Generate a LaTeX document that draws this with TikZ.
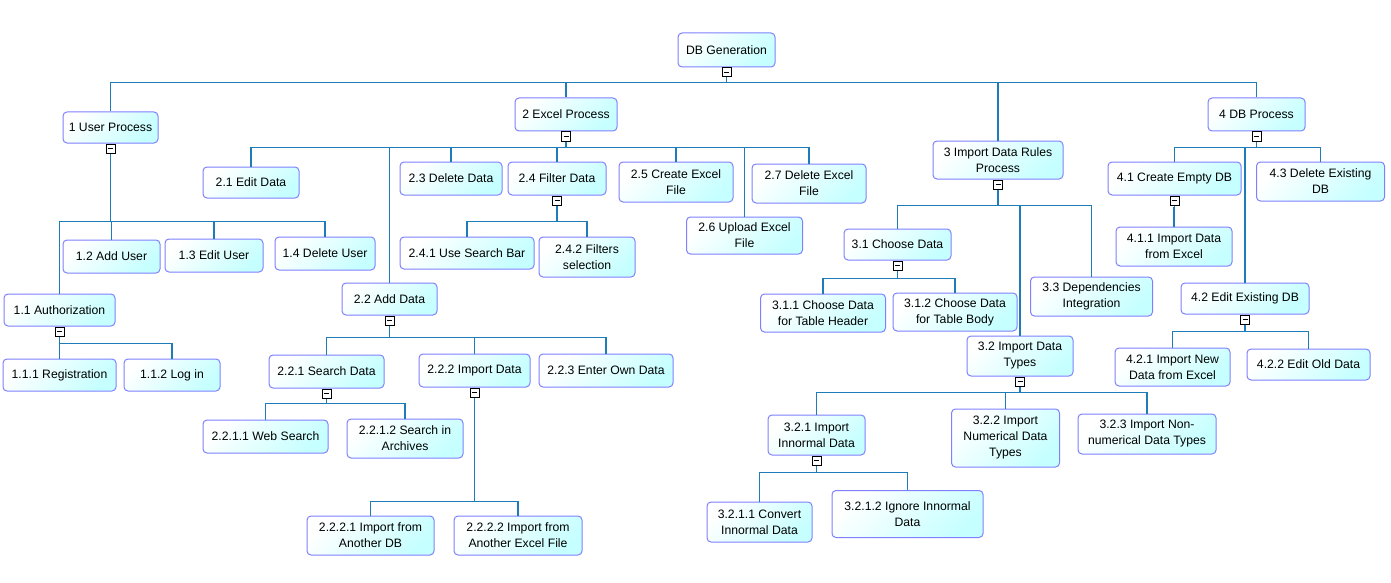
\documentclass[tikz,border=0pt]{standalone}
\usepackage{fontspec}
\setmainfont{Liberation Sans}
\definecolor{edgec}{RGB}{30,125,185}
\definecolor{boxborder}{RGB}{128,128,255}
\definecolor{boxcyan}{RGB}{198,255,255}
\tikzset{
  box/.style={draw=boxborder, line width=1pt, rounded corners=4pt,
    top color=white, bottom color=boxcyan, shading angle=45,
    align=center, inner sep=1pt, text=black,
    font=\fontsize{12.2}{16}\selectfont},
  edge/.style={draw=edgec, line width=1.2pt},
  marker/.style={draw=black, fill=white, line width=0.9pt, minimum size=9pt,
    inner sep=0pt, anchor=north,
    path picture={\draw[line width=0.9pt] ([xshift=2pt]path picture bounding box.west) -- ([xshift=-2pt]path picture bounding box.east);}}
}
\newcommand\bx[6]{\node[box, minimum width=#4pt, minimum height=#5pt] (#1) at (#2,#3) {#6};}
\newcommand\kids[3]{\foreach \c in {#3} {\draw[edge] (#1.south) -- ++(0,#2) -| (\c.north);}}
\newcommand\mk[1]{\node[marker] (m#1) at (#1.south) {};}
\begin{document}
\begin{tikzpicture}[x=1pt,y=-1pt]
\useasboundingbox (0,0) rectangle (1391,583);
% nodes
\bx{root}{726.5}{50}{97}{34}{DB Generation}
\bx{n1}{110.5}{127.5}{95}{31}{1 User Process}
\bx{n11}{59.5}{310}{111}{32}{1.1 Authorization}
\bx{n111}{59.5}{375}{113}{32}{1.1.1 Registration}
\bx{n112}{172}{375}{96}{32}{1.1.2 Log in}
\bx{n12}{111.5}{256.5}{97}{33}{1.2 Add User}
\bx{n13}{214}{255.5}{98}{33}{1.3 Edit User}
\bx{n14}{325}{253.5}{100}{33}{1.4 Delete User}
\bx{n2}{566}{114.5}{102}{33}{2 Excel Process}
\bx{n21}{251}{182.5}{96}{31}{2.1 Edit Data}
\bx{n22}{389.5}{299}{95}{32}{2.2 Add Data}
\bx{n221}{326.5}{371.5}{115}{33}{2.2.1 Search Data}
\bx{n2211}{265.5}{436.5}{125}{33}{2.2.1.1 Web Search}
\bx{n2212}{405}{438.5}{116}{39}{2.2.1.2 Search in\\Archives}
\bx{n222}{474.5}{370.5}{111}{33}{2.2.2 Import Data}
\bx{n2221}{370.5}{535.5}{127}{39}{2.2.2.1 Import from\\Another DB}
\bx{n2222}{518}{535.5}{128}{39}{2.2.2.2 Import from\\Another Excel File}
\bx{n223}{606}{370.5}{134}{33}{2.2.3 Enter Own Data}
\bx{n23}{451}{178.5}{102}{33}{2.3 Delete Data}
\bx{n24}{557}{178.5}{98}{33}{2.4 Filter Data}
\bx{n241}{467}{253}{134}{32}{2.4.1 Use Search Bar}
\bx{n242}{587}{257}{96}{40}{2.4.2 Filters\\selection}
\bx{n25}{676}{182}{114}{40}{2.5 Create Excel\\File}
\bx{n26}{744.5}{235.5}{116}{37}{2.6 Upload Excel\\File}
\bx{n27}{809}{183.5}{114}{39}{2.7 Delete Excel\\File}
\bx{n3}{998}{160}{130}{38}{3 Import Data Rules\\Process}
\bx{n31}{897.5}{244.5}{107}{31}{3.1 Choose Data}
\bx{n311}{823}{313}{125}{38}{3.1.1 Choose Data\\for Table Header}
\bx{n312}{955}{312}{124}{38}{3.1.2 Choose Data\\for Table Body}
\bx{n32}{1020}{356}{106}{40}{3.2 Import Data\\Types}
\bx{n321}{816.5}{435}{97}{40}{3.2.1 Import\\Innormal Data}
\bx{n3211}{759.5}{522}{105}{40}{3.2.1.1 Convert\\Innormal Data}
\bx{n3212}{907.5}{514}{151}{47}{3.2.1.2 Ignore Innormal\\Data}
\bx{n322}{1005.5}{438}{108}{58}{3.2.2 Import\\Numerical Data\\Types}
\bx{n323}{1147}{434}{138}{40}{3.2.3 Import Non-\\numerical Data Types}
\bx{n33}{1091.5}{296.5}{122}{39}{3.3 Dependencies\\Integration}
\bx{n4}{1256.5}{114.5}{97}{33}{4 DB Process}
\bx{n41}{1174.5}{178.5}{133}{33}{4.1 Create Empty DB}
\bx{n411}{1174}{246.5}{116}{39}{4.1.1 Import Data\\from Excel}
\bx{n42}{1245}{298.5}{128}{31}{4.2 Edit Existing DB}
\bx{n421}{1172.5}{367}{115}{38}{4.2.1 Import New\\Data from Excel}
\bx{n422}{1308.5}{364.5}{123}{31}{4.2.2 Edit Old Data}
\bx{n43}{1320.5}{181.5}{128}{39}{4.3 Delete Existing\\DB}
% connectors
\kids{root}{15}{n1,n2,n3,n4}
\kids{n1}{78}{n11,n12,n13,n14}
\kids{n11}{17}{n111,n112}
\kids{n2}{16}{n21,n22,n23,n24,n25,n26,n27}
\kids{n22}{22}{n221,n222,n223}
\kids{n221}{15}{n2211,n2212}
\kids{n222}{114}{n2221,n2222}
\kids{n24}{26}{n241,n242}
\kids{n3}{26}{n31,n32,n33}
\kids{n31}{18}{n311,n312}
\kids{n32}{16}{n321,n322,n323}
\kids{n321}{17}{n3211,n3212}
\kids{n4}{16}{n41,n42,n43}
\kids{n41}{12}{n411}
\kids{n42}{17}{n421,n422}
% collapse markers
\mk{root}\mk{n1}\mk{n11}\mk{n2}\mk{n22}\mk{n221}\mk{n222}\mk{n24}
\mk{n3}\mk{n31}\mk{n32}\mk{n321}\mk{n4}\mk{n41}\mk{n42}
\end{tikzpicture}
\end{document}
